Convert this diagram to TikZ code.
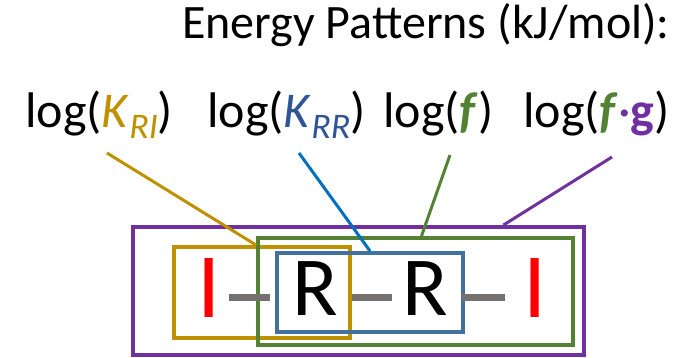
\documentclass[tikz,border=0pt]{standalone}
\usepackage{fontspec}
\setmainfont{Carlito}
\usetikzlibrary{calc}
\definecolor{rigold}  {HTML}{BF9000}
\definecolor{rrblue}  {HTML}{2F5597}
\definecolor{lineblue}{HTML}{0070C0}
\definecolor{boxblue} {HTML}{41719C}
\definecolor{fgreen}  {HTML}{548235}
\definecolor{gpurple} {HTML}{7030A0}
\definecolor{bondgray}{HTML}{767171}
\newcommand{\lowidx}[1]{\raisebox{-0.22em}{\fontsize{36}{36}\selectfont\textit{#1}}}

\begin{document}
\begin{tikzpicture}[
  x=1pt, y=-1pt,
  lbl/.style={anchor=base west,inner sep=0pt,font=\fontsize{50}{50}\selectfont},
  res/.style={inner sep=0pt,font=\fontsize{84}{84}\selectfont},
  ires/.style={inner sep=0pt,red,font=\fontsize{92}{92}\selectfont},
  bond/.style={line width=7pt,bondgray,shorten >=14pt,shorten <=14pt},
  pbox/.style={draw,line width=4pt,minimum width=#1,inner sep=0pt},
  link/.style={line width=3pt}
]
\useasboundingbox (0,0) rectangle (679,358);

%% title
\node[anchor=base east,inner sep=0pt,font=\fontsize{48}{48}\selectfont]
  (title) at (670,39) {Energy Patterns (kJ/mol):};

%% labels
\node[lbl] (kri) at (25,128) {log(\textcolor{rigold}{\textit{K}\lowidx{RI}})};
\node[lbl] (krr) at (207,128) {log(\textcolor{rrblue}{\textit{K}\lowidx{RR}})};
\node[lbl] (lf)  at (383,128) {log(\textcolor{fgreen}{\textbf{\textit{f}}})};
\node[lbl] (lfg) at (523,128)
  {log(\textcolor{fgreen}{\textbf{\textit{f}}}\textcolor{gpurple}{·\textbf{g}})};

%% pattern boxes
\node[pbox=451pt,minimum height=128pt,gpurple] (boxfg) at (358.5,291) {};
\node[pbox=176pt,minimum height=91pt,rigold]   (boxri) at (262,292.5) {};
\node[pbox=315pt,minimum height=107pt,fgreen]  (boxf)  at (415.5,291.5) {};
\node[pbox=186pt,minimum height=79pt,boxblue]  (boxrr) at (370,292.5) {};

%% chain I-R-R-I
\node[ires] (i1) at (209,288) {I};
\node[res]  (r1) at (315,289) {R};
\node[res]  (r2) at (425,289) {R};
\node[ires] (i2) at (535,288) {I};
\draw[bond,shorten <=8pt,shorten >=22pt]
  ($(i1.east)+(0,9)$) -- ($(r1.west)+(0,8)$);
\draw[bond,shorten >=10pt] ($(r1.east)+(0,8)$) -- ($(r2.west)+(0,8)$);
\draw[bond,shorten >=18pt] ($(r2.east)+(0,8)$) -- ($(i2.west)+(0,9)$);

%% links label -> box
\coordinate (kri-s) at (107,153);
\coordinate (krr-s) at (299,153);
\coordinate (lf-s)  at (450,155);
\coordinate (lfg-s) at (612,157);
\draw[link,rigold]   (kri-s) -- (boxri.north -| boxf.west);
\draw[link,lineblue] (krr-s) -- (boxrr.north);
\draw[link,fgreen]   (lf-s)  -- ($(boxf.north)+(6,0)$);
\draw[link,gpurple]  (lfg-s) -- ($(boxfg.north)+(145,0)$);

\end{tikzpicture}
\end{document}
